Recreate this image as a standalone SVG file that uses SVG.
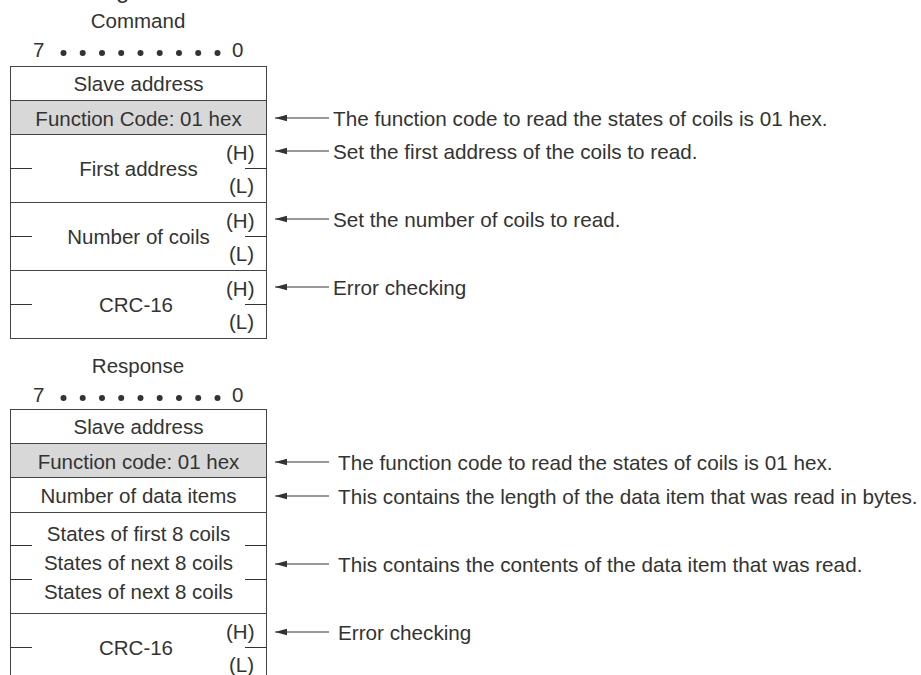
<svg xmlns="http://www.w3.org/2000/svg" width="921" height="675" viewBox="0 0 921 675">
<style>
text{font-family:"Liberation Sans",Arial,Helvetica,sans-serif;font-size:20.5px;fill:#333}
.c{text-anchor:middle}
.n{font-size:20.7px}
.row{fill:#fff;stroke:#444;stroke-width:1}
.gray{fill:#d8d8d8;stroke:#444;stroke-width:1}
.tick{stroke:#333;stroke-width:1}
.arr{stroke:#333;stroke-width:1;fill:none;marker-end:url(#ah)}
.dot{fill:#333}
</style>
<defs>
<marker id="ah" markerUnits="userSpaceOnUse" markerWidth="13" markerHeight="8" refX="12" refY="4" orient="auto">
<path d="M0,0.8 L12,4 L0,7.2 z" fill="#333"/>
</marker>
</defs>
<rect width="921" height="675" fill="#fff"/>
<text x="116" y="-2" style="font-size:24px">g</text>

<g id="command-title">
<text class="c" x="138" y="27.5">Command</text>
<text x="33" y="57">7</text>
<circle class="dot" cx="63.5" cy="53" r="3"/><circle class="dot" cx="82.7" cy="53" r="3"/><circle class="dot" cx="102" cy="53" r="3"/><circle class="dot" cx="121.2" cy="53" r="3"/><circle class="dot" cx="140.5" cy="53" r="3"/><circle class="dot" cx="159.7" cy="53" r="3"/><circle class="dot" cx="179" cy="53" r="3"/><circle class="dot" cx="198.2" cy="53" r="3"/><circle class="dot" cx="217.5" cy="53" r="3"/>
<text x="232" y="57">0</text>
</g>

<g id="cmd-slave">
<rect class="row" x="10.5" y="66.5" width="256" height="34"/>
<text class="c" x="138.5" y="91">Slave address</text>
</g>
<g id="cmd-fc">
<rect class="gray" x="10.5" y="100.5" width="256" height="34"/>
<text class="c" x="138.5" y="125.5">Function Code: 01 hex</text>
</g>
<g id="cmd-first">
<rect class="row" x="10.5" y="134.5" width="256" height="68"/>
<text class="c" x="138.5" y="176">First address</text>
<text x="226" y="160">(H)</text>
<text x="229" y="193">(L)</text>
<line class="tick" x1="10" y1="168.5" x2="32" y2="168.5"/>
<line class="tick" x1="245" y1="168.5" x2="267" y2="168.5"/>
</g>
<g id="cmd-num">
<rect class="row" x="10.5" y="202.5" width="256" height="68"/>
<text class="c" x="138.5" y="244">Number of coils</text>
<text x="226" y="228">(H)</text>
<text x="229" y="261">(L)</text>
<line class="tick" x1="10" y1="236.5" x2="32" y2="236.5"/>
<line class="tick" x1="245" y1="236.5" x2="267" y2="236.5"/>
</g>
<g id="cmd-crc">
<rect class="row" x="10.5" y="270.5" width="256" height="68"/>
<text class="c" x="136" y="312">CRC-16</text>
<text x="226" y="296">(H)</text>
<text x="229" y="329">(L)</text>
<line class="tick" x1="10" y1="304.5" x2="32" y2="304.5"/>
<line class="tick" x1="245" y1="304.5" x2="267" y2="304.5"/>
</g>

<g id="response-title">
<text class="c" x="138" y="373">Response</text>
<text x="33" y="402">7</text>
<circle class="dot" cx="63.5" cy="398" r="3"/><circle class="dot" cx="82.7" cy="398" r="3"/><circle class="dot" cx="102" cy="398" r="3"/><circle class="dot" cx="121.2" cy="398" r="3"/><circle class="dot" cx="140.5" cy="398" r="3"/><circle class="dot" cx="159.7" cy="398" r="3"/><circle class="dot" cx="179" cy="398" r="3"/><circle class="dot" cx="198.2" cy="398" r="3"/><circle class="dot" cx="217.5" cy="398" r="3"/>
<text x="232" y="402">0</text>
</g>

<g id="rsp-slave">
<rect class="row" x="10.5" y="409.5" width="256" height="34"/>
<text class="c" x="138.5" y="434">Slave address</text>
</g>
<g id="rsp-fc">
<rect class="gray" x="10.5" y="443.5" width="256" height="34"/>
<text class="c" x="138.5" y="468.5">Function code: 01 hex</text>
</g>
<g id="rsp-ndi">
<rect class="row" x="10.5" y="477.5" width="256" height="35"/>
<text class="c" x="138.5" y="502.5">Number of data items</text>
</g>
<g id="rsp-states">
<rect class="row" x="10.5" y="512.5" width="256" height="101"/>
<text class="c" x="138.5" y="541">States of first 8 coils</text>
<text class="c" x="138.5" y="570">States of next 8 coils</text>
<text class="c" x="138.5" y="599">States of next 8 coils</text>
<line class="tick" x1="10" y1="545.5" x2="32" y2="545.5"/>
<line class="tick" x1="245" y1="545.5" x2="267" y2="545.5"/>
<line class="tick" x1="10" y1="579.5" x2="32" y2="579.5"/>
<line class="tick" x1="245" y1="579.5" x2="267" y2="579.5"/>
</g>
<g id="rsp-crc">
<rect class="row" x="10.5" y="613.5" width="256" height="80"/>
<text class="c" x="136" y="655">CRC-16</text>
<text x="226" y="639">(H)</text>
<text x="229" y="672">(L)</text>
<line class="tick" x1="10" y1="647.5" x2="32" y2="647.5"/>
<line class="tick" x1="245" y1="647.5" x2="267" y2="647.5"/>
</g>

<g id="connectors">
<line class="arr" x1="329" y1="118" x2="275" y2="118"/>
<line class="arr" x1="329" y1="151" x2="275" y2="151"/>
<line class="arr" x1="329" y1="219" x2="275" y2="219"/>
<line class="arr" x1="329" y1="287" x2="275" y2="287"/>
<line class="arr" x1="329" y1="462" x2="275" y2="462"/>
<line class="arr" x1="329" y1="496" x2="275" y2="496"/>
<line class="arr" x1="329" y1="564" x2="275" y2="564"/>
<line class="arr" x1="329" y1="632" x2="275" y2="632"/>
</g>

<g id="notes">
<text class="n" x="333" y="125.5">The function code to read the states of coils is 01 hex.</text>
<text class="n" x="333" y="158.5">Set the first address of the coils to read.</text>
<text class="n" x="333" y="226.5">Set the number of coils to read.</text>
<text class="n" x="333" y="294.5">Error checking</text>
<text class="n" x="338" y="469.5">The function code to read the states of coils is 01 hex.</text>
<text class="n" x="338" y="503.5">This contains the length of the data item that was read in bytes.</text>
<text class="n" x="338" y="571.5">This contains the contents of the data item that was read.</text>
<text class="n" x="338" y="639.5">Error checking</text>
</g>
</svg>
